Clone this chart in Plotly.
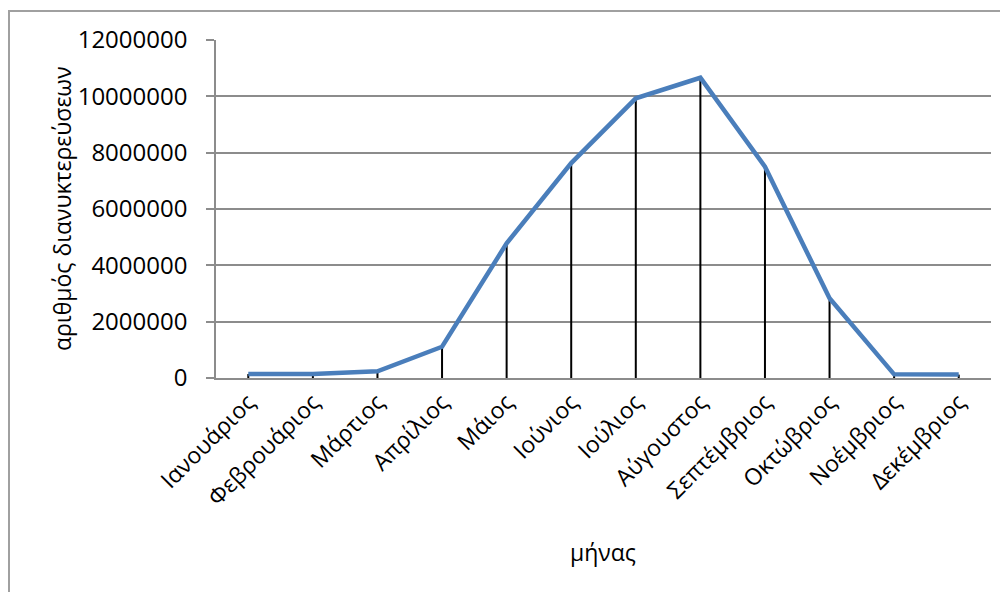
import plotly.graph_objects as go

months = ["Ιανουάριος", "Φεβρουάριος", "Μάρτιος", "Απρίλιος", "Μάιος", "Ιούνιος",
          "Ιούλιος", "Αύγουστος", "Σεπτέμβριος", "Οκτώβριος", "Νοέμβριος", "Δεκέμβριος"]
nights = [140000, 140000, 240000, 1110000, 4780000, 7630000,
          9930000, 10660000, 7500000, 2830000, 130000, 120000]
y_ticks = [0, 2000000, 4000000, 6000000, 8000000, 10000000, 12000000]

FONT = "Open Sans"
GRID = "#8c8c8c"

# drop lines from each point to the axis
dx, dy = [], []
for m, v in zip(months, nights):
    dx += [m, m, None]
    dy += [0, v, None]

fig = go.Figure()
fig.add_trace(go.Scatter(x=dx, y=dy, mode="lines",
                         line=dict(color="black", width=2),
                         hoverinfo="skip", showlegend=False))
fig.add_trace(go.Scatter(x=months, y=nights, mode="lines",
                         line=dict(color="#4a7ebb", width=4.5),
                         showlegend=False))

# page has an 8px body margin: figure is offset by 8px
OFF = 8
W, H = 1008 - OFF, 592 - OFF
PL, PR, PT, PB = 216, 991, 40, 378  # plot area in screen pixels
pw, ph = PR - PL, PB - PT
L, T = PL - OFF, PT - OFF
R, B = W - L - pw, H - T - ph


def px(x):
    return (x - PL) / pw


def py(y):
    return (PB - y) / ph


fig.update_layout(
    width=W, height=H,
    margin=dict(l=L, r=R, t=T, b=B, pad=0, autoexpand=False),
    paper_bgcolor="white", plot_bgcolor="white",
    font=dict(family=FONT, size=24, color="black"),
    xaxis=dict(type="category", tickangle=-45, showgrid=False,
               showline=True, linecolor=GRID, linewidth=1.5,
               ticks="", tickfont=dict(size=23), range=[-0.5, 11.5],
               automargin=False),
    yaxis=dict(range=[0, 12000000], tickvals=y_ticks,
               ticktext=[str(v) for v in y_ticks],
               showgrid=True, gridcolor=GRID, gridwidth=1.5,
               showline=True, linecolor=GRID, linewidth=1.5,
               ticks="outside", ticklen=8, tickcolor=GRID, tickwidth=1.5,
               ticklabelstandoff=14, tickfont=dict(size=24), zeroline=False,
               automargin=False),
    annotations=[
        dict(text="μήνας", xref="paper", yref="paper",
             x=px(603), y=py(552), showarrow=False,
             xanchor="center", yanchor="middle", font=dict(size=23)),
        dict(text="αριθμός διανυκτερεύσεων", xref="paper", yref="paper",
             x=px(62), y=0.5, textangle=-90, showarrow=False,
             xanchor="center", yanchor="middle", font=dict(size=23)),
    ],
    shapes=[
        dict(type="rect", xref="paper", yref="paper",
             x0=px(9), x1=px(1030), y0=py(640), y1=py(11),
             line=dict(color="#a0a0a0", width=2), layer="below"),
    ],
)

fig.write_html("out.html")
